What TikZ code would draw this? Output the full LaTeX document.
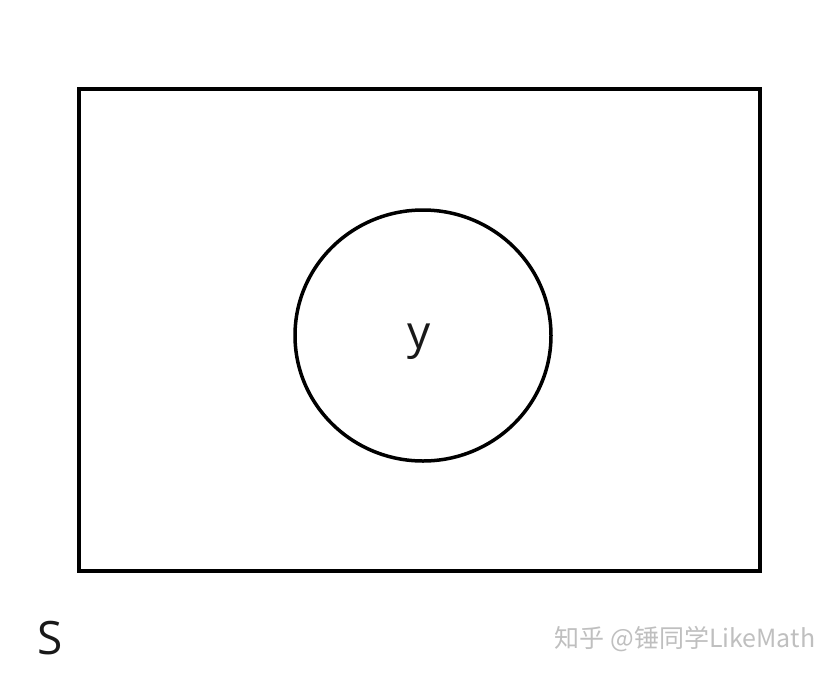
\documentclass[tikz,border=0pt]{standalone}
\usepackage{fontspec}
\usetikzlibrary{shapes.geometric}
\setmainfont{Open Sans}
\newfontfamily\cjk{Noto Sans CJK SC}
\begin{document}
\begin{tikzpicture}[x=1pt,y=-1pt,
  shape line/.style={line width=4.5pt, draw=black},
  lbl/.style={font=\fontsize{46}{50}\selectfont, text=black!90, inner sep=0pt},
  wm/.style={font=\cjk\fontsize{25}{28}\selectfont, text=black!25, inner sep=0pt}]
\useasboundingbox (0,0) rectangle (836,673);
\node[shape line, rectangle, minimum width=681pt, minimum height=482pt, inner sep=0pt] (S) at (419.5,330) {};
\node[draw=black, line width=3.5pt, ellipse, minimum width=256pt, minimum height=251pt, inner sep=0pt] (Y) at (423,335.5) {};
\node[lbl] (ylbl) at (419,342) {y};
\node[lbl] (slbl) at (50,638) {S};
\node[wm] (wmk) at (685,639) {知乎 @锤同学LikeMath};
\end{tikzpicture}
\end{document}
